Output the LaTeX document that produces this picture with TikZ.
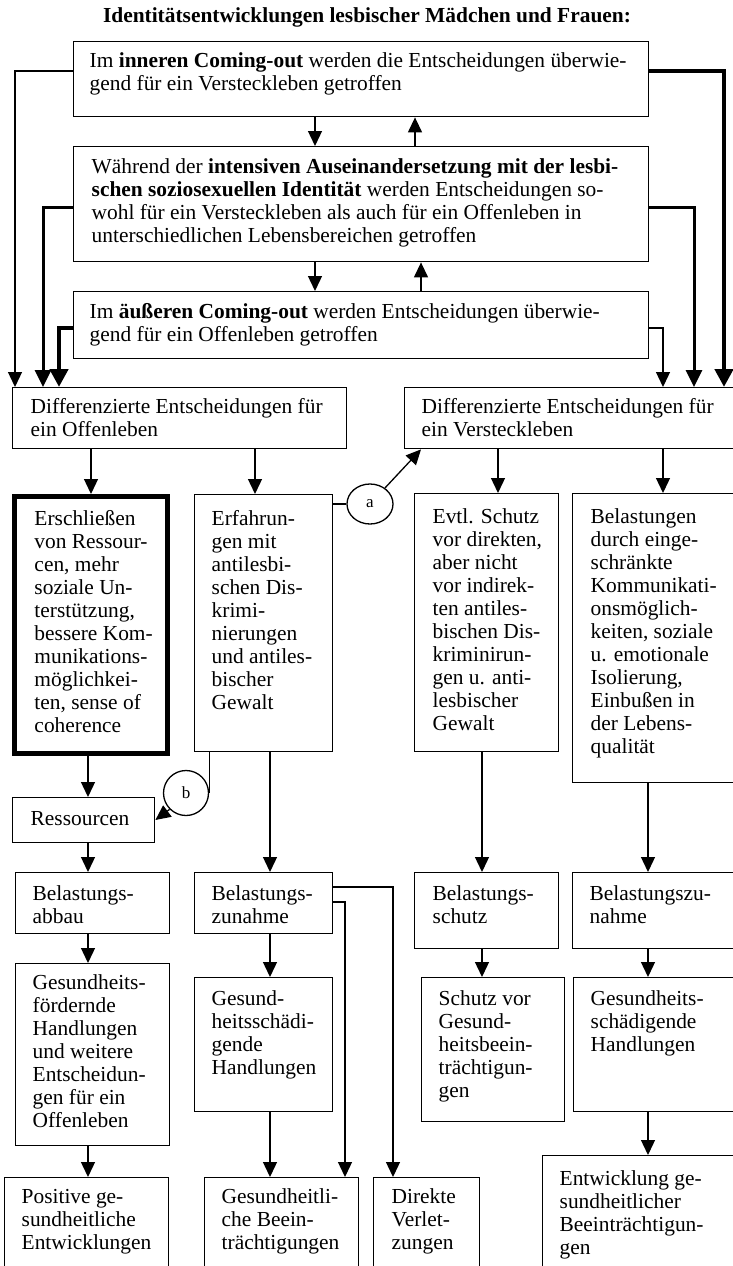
\documentclass[tikz,border=0pt]{standalone}
\usepackage{fontspec}
\setmainfont{Liberation Serif}
\usetikzlibrary{arrows.meta,shapes.geometric}
\newcommand\bx[9][]{\node[box,#1] (#2) at (#3,#4) {\parbox[c][\dimexpr#6pt-#4pt\relax][t]{\dimexpr#5pt-#3pt\relax}{\raggedright\leftskip=#7pt\relax\hyphenpenalty=10000\relax\rule{0pt}{#8pt}#9}};}
\tikzset{
 box/.style={draw, line width=1.4pt, inner sep=0pt, anchor=north west, font=\fontsize{21.4}{23}\selectfont},
 con/.style={line width=1.3pt},
 arr/.style={line width=1.3pt, -{Triangle[length=15pt,width=14pt]}},
 arrm/.style={line width=3pt, -{Triangle[length=17pt,width=16pt]}},
 arrt/.style={line width=4.5pt, -{Triangle[length=18pt,width=18pt]}},
 circ/.style={draw, line width=1.3pt, inner sep=0pt, font=\fontsize{17}{20}\selectfont},
 ttl/.style={anchor=base, inner sep=0pt, font=\fontsize{21.4}{23}\selectfont\bfseries}
}
\begin{document}
\begin{tikzpicture}[x=1pt,y=-1pt]
\clip (0,0) rectangle (733,1266);
\node[ttl] (title) at (367,22) {Identitätsentwicklungen lesbischer Mädchen und Frauen:};
\bx{b1}{73}{41}{648}{116}{16}{26}{Im \textbf{inneren Coming-out} werden die Entscheidungen überwie-\\gend für ein Versteckleben getroffen}
\bx{b2}{73}{146}{648}{261}{18}{27}{Während der \textbf{intensiven Auseinandersetzung mit der lesbi-}\\\textbf{schen soziosexuellen Identität} werden Entscheidungen so-\\wohl für ein Versteckleben als auch für ein Offenleben in\\unterschiedlichen Lebensbereichen getroffen}
\bx{b3}{73}{291}{648}{358}{16}{27}{Im \textbf{äußeren Coming-out} werden Entscheidungen überwie-\\gend für ein Offenleben getroffen}
\bx{off}{12}{387}{346}{448}{18}{26}{Differenzierte Entscheidungen für\\ein Offenleben}
\bx{vers}{404}{387}{745}{448}{17}{26}{Differenzierte Entscheidungen für\\ein Versteckleben}
\bx[line width=5pt]{ersch}{12}{494}{165}{751}{20}{29}{Erschließen\\von Ressour-\\cen, mehr\\soziale Un-\\terstützung,\\bessere Kom-\\munikations-\\möglichkei-\\ten, sense of\\coherence}
\bx{erf}{194}{494}{332}{751}{17}{31}{Erfahrun-\\gen mit\\antilesbi-\\schen Dis-\\krimi-\\nierungen\\und antiles-\\bischer\\Gewalt}
\bx{evtl}{414}{493}{558}{751}{18}{30}{Evtl. Schutz\\vor direkten,\\aber nicht\\vor indirek-\\ten antiles-\\bischen Dis-\\kriminirun-\\gen u. anti-\\lesbischer\\Gewalt}
\bx{bel}{572}{493}{745}{782}{18}{30}{Belastungen\\durch einge-\\schränkte\\Kommunikati-\\onsmöglich-\\keiten, soziale\\u. emotionale\\Isolierung,\\Einbußen in\\der Lebens-\\qualität}
\bx{res}{12}{797}{154}{842}{18}{28}{Ressourcen}
\bx{abbau}{15}{872}{169}{933}{17}{28}{Belastungs-\\abbau}
\bx{zun}{194}{872}{332}{933}{17}{28}{Belastungs-\\zunahme}
\bx{schutz}{414}{872}{558}{948}{18}{28}{Belastungs-\\schutz}
\bx{zunb}{572}{872}{745}{948}{17}{28}{Belastungszu-\\nahme}
\bx{foerd}{15}{963}{169}{1145}{17}{26}{Gesundheits-\\fördernde\\Handlungen\\und weitere\\Entscheidun-\\gen für ein\\Offenleben}
\bx{schaed}{194}{977}{332}{1111}{17}{28}{Gesund-\\heitsschädi-\\gende\\Handlungen}
\bx{schutzvor}{421}{977}{564}{1121}{17}{28}{Schutz vor\\Gesund-\\heitsbeein-\\trächtigun-\\gen}
\bx{schaedb}{573}{977}{745}{1111}{17}{28}{Gesundheits-\\schädigende\\Handlungen}
\bx{pos}{4}{1177}{168}{1290}{17}{26}{Positive ge-\\sundheitliche\\Entwicklungen}
\bx{beein}{204}{1177}{358}{1290}{17}{26}{Gesundheitli-\\che Beein-\\trächtigungen}
\bx{dir}{373}{1177}{479}{1290}{18}{26}{Direkte\\Verlet-\\zungen}
\bx{entw}{542}{1155}{745}{1290}{17}{30}{Entwicklung ge-\\sundheitlicher\\Beeinträchtigun-\\gen}
\node[circ, ellipse, minimum width=46pt, minimum height=40pt] (a) at (370,504) {a};
\node[circ, circle, minimum size=45pt] (b) at (186,793) {b};
% top feedback connectors
\draw[arr] (b1.west |- 0,71) -| (15,0 |- off.north);
\draw[arrm] (b2.west |- 0,207) -| (43,0 |- off.north);
\draw[arrt] (b3.west |- 0,328) -| (59,0 |- off.north);
\draw[arrt] (b1.east |- 0,71) -| (724,0 |- vers.north);
\draw[arrm] (b2.east |- 0,207) -| (694,0 |- vers.north);
\draw[arr] (b3.east |- 0,328) -| (663,0 |- vers.north);
\draw[arr] (315,0 |- b1.south) -- (315,0 |- b2.north);
\draw[arr] (415,0 |- b2.north) -- (415,0 |- b1.south);
\draw[arr] (315,0 |- b2.south) -- (315,0 |- b3.north);
\draw[arr] (421,0 |- b3.north) -- (421,0 |- b2.south);
% middle
\draw[arr] (ersch.north |- off.south) -- (ersch.north);
\draw[arr] (255,0 |- off.south) -- (255,0 |- erf.north);
\draw[arr] (498,0 |- vers.south) -- (498,0 |- evtl.north);
\draw[arr] (663,0 |- vers.south) -- (663,0 |- bel.north);
\draw[con] (erf.east |- a.west) -- (a.west);
\draw[arr] (a) -- (421,0 |- vers.south);
\draw[con] (b.east |- erf.south) -- (b.east);
\draw[arr] (b.south west) -- (res.east |- 0,820);
\draw[arr] (270,0 |- erf.south) -- (270,0 |- zun.north);
\draw[arr] (88,0 |- ersch.south) -- (88,0 |- res.north);
\draw[arr] (88,0 |- res.south) -- (88,0 |- abbau.north);
\draw[arr] (88,0 |- abbau.south) -- (88,0 |- foerd.north);
\draw[arr] (88,0 |- foerd.south) -- (88,0 |- pos.north);
\draw[arr] (270,0 |- zun.south) -- (270,0 |- schaed.north);
\draw[arr] (270,0 |- schaed.south) -- (270,0 |- beein.north);
\draw[arr] (zun.east |- 0,887) -| (393,0 |- dir.north);
\draw[arr] (zun.east |- 0,902) -| (345,0 |- beein.north);
\draw[arr] (482,0 |- evtl.south) -- (482,0 |- schutz.north);
\draw[arr] (482,0 |- schutz.south) -- (482,0 |- schutzvor.north);
\draw[arr] (648,0 |- bel.south) -- (648,0 |- zunb.north);
\draw[arr] (648,0 |- zunb.south) -- (648,0 |- schaedb.north);
\draw[arr] (648,0 |- schaedb.south) -- (648,0 |- entw.north);
\end{tikzpicture}
\end{document}
